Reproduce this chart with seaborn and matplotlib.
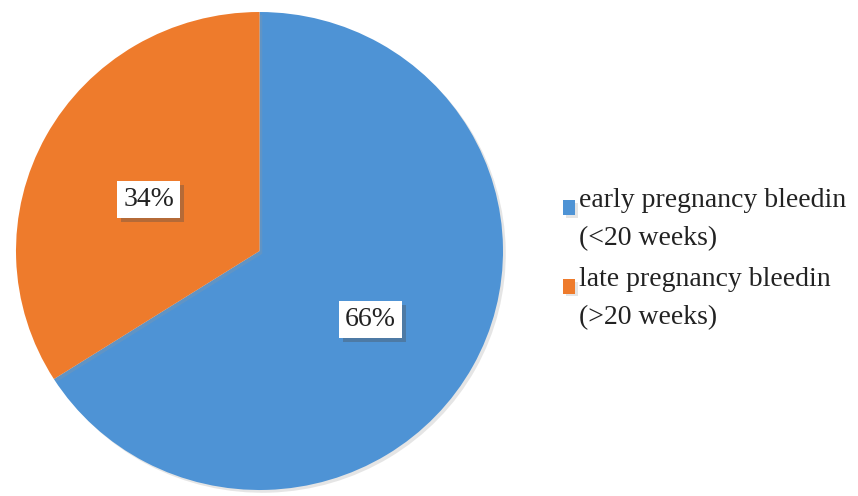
import matplotlib
matplotlib.use('Agg')
import matplotlib.pyplot as plt
import matplotlib.patheffects as pe
from matplotlib.patches import Rectangle
from matplotlib.legend_handler import HandlerPatch
import seaborn as sns

# Data
categories = ['early pregnancy bleedin\n(<20 weeks)', 'late pregnancy bleedin\n(>20 weeks)']
shares = [66, 34]
colors = ['#4e93d5', '#ee7b2c']

sns.set_theme(style='white')
plt.rcParams['font.family'] = ['Liberation Serif', 'DejaVu Serif']

fig = plt.figure(figsize=(8.58, 4.96), dpi=100)
ax = fig.add_axes([16 / 858, 6 / 496, 487 / 858, 478 / 496])

wedges, texts, autotexts = ax.pie(
    shares, colors=colors, startangle=90, counterclock=False,
    autopct='%1.0f%%', pctdistance=0.52,
    wedgeprops=dict(linewidth=0),
    textprops=dict(fontsize=20, color='#222222'))

for w in wedges:
    w.set_path_effects([pe.SimplePatchShadow(offset=(2, -2), shadow_rgbFace='#999999', alpha=0.25), pe.Normal()])

for t in autotexts:
    x, y = t.get_position()
    t.set_position((x, y - 0.035))
    t.set_bbox(dict(boxstyle='square,pad=0.22', fc='white', ec='none'))
    t.get_bbox_patch().set_path_effects([pe.SimplePatchShadow(offset=(3, -3), alpha=0.35), pe.Normal()])

ax.set_aspect('auto')
ax.set_xlim(-1, 1)
ax.set_ylim(-1, 1)
ax.axis('off')


def square_handle(legend, orig_handle, xdescent, ydescent, width, height, fontsize):
    # put the square next to the first line of a two-line label
    return Rectangle((-xdescent, -ydescent + 0.42 * fontsize), width, height)


leg = fig.legend(
    wedges, categories, loc='upper left',
    bbox_to_anchor=(563 / 858, 1 - 188 / 496), bbox_transform=fig.transFigure,
    frameon=False, fontsize=20, borderpad=0, borderaxespad=0,
    handlelength=0.43, handleheight=0.43, handletextpad=0.15, labelspacing=0.55,
    handler_map={w: HandlerPatch(patch_func=square_handle) for w in wedges})
for t in leg.get_texts():
    t.set_linespacing(1.7)
    t.set_color('#222222')

fig.savefig('out.png', dpi=100)
